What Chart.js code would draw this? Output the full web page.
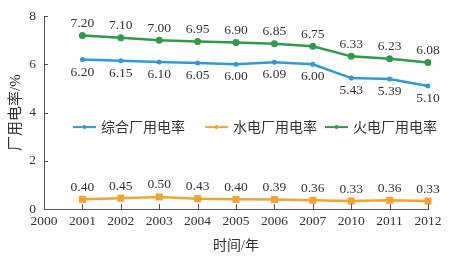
<!DOCTYPE html>
<html><head><meta charset="utf-8">
<script src="https://cdn.jsdelivr.net/npm/chart.js@4/dist/chart.umd.min.js"></script>
<style>html,body{margin:0;padding:0;background:#fff}#wrap{width:453px;height:261px;position:relative}</style>
</head><body><div id="wrap"><canvas id="c"></canvas></div>
<script>
// ---- data ----
const years = ['2000','2001','2002','2003','2004','2005','2006','2007','2010','2011','2012'];
const seriesNames = ['综合厂用电率','水电厂用电率','火电厂用电率'];
const overallRate = [6.20, 6.15, 6.10, 6.05, 6.00, 6.09, 6.00, 5.43, 5.39, 5.10];
const hydroRate   = [0.40, 0.45, 0.50, 0.43, 0.40, 0.39, 0.36, 0.33, 0.36, 0.33];
const thermalRate = [7.20, 7.10, 7.00, 6.95, 6.90, 6.85, 6.75, 6.33, 6.23, 6.08];
const yTicks = [0, 2, 4, 6, 8];

const FONT = '"Liberation Serif", "Noto Sans CJK SC", serif';
const TXT = '#333333';
const AXIS = '#555555';

const blue = '#2E9BDA', orange = '#F2A431', green = '#2F9A48';

function mk(name, vals, color, style, radius, off) {
  return {
    label: name, data: [null].concat(vals), borderColor: color, backgroundColor: color,
    borderWidth: 2.5, pointStyle: style, pointRadius: radius, pointHoverRadius: radius,
    pointBorderWidth: 0, tension: 0, spanGaps: false, labelOffset: off
  };
}

const labelPlugin = {
  id: 'vlabels',
  afterDatasetsDraw(chart) {
    const ctx = chart.ctx;
    ctx.save();
    ctx.font = '13.5px ' + FONT;
    ctx.fillStyle = TXT; ctx.textAlign = 'center'; ctx.textBaseline = 'middle';
    chart.data.datasets.forEach((ds, i) => {
      chart.getDatasetMeta(i).data.forEach((pt, j) => {
        const v = ds.data[j]; if (v == null) return;
        ctx.fillText(v.toFixed(2), pt.x, pt.y + ds.labelOffset);
      });
    });
    ctx.restore();
  }
};

const tickPlugin = {
  id: 'innerTicks',
  afterDraw(chart) {
    const ctx = chart.ctx, a = chart.chartArea;
    const xs = chart.scales.x, ys = chart.scales.y;
    ctx.save();
    ctx.strokeStyle = AXIS; ctx.lineWidth = 1;
    ctx.beginPath();
    ys.ticks.forEach((t, i) => {
      const y = Math.round(ys.getPixelForTick(i)) + 0.5;
      ctx.moveTo(a.left, y); ctx.lineTo(a.left + 4, y);
    });
    xs.ticks.forEach((t, i) => {
      const x = Math.round(xs.getPixelForTick(i)) + 0.5;
      ctx.moveTo(x, a.bottom); ctx.lineTo(x, a.bottom - 5);
    });
    ctx.stroke();
    ctx.restore();
  }
};

const legendPlugin = {
  id: 'innerLegend',
  afterDraw(chart) {
    const ctx = chart.ctx, a = chart.chartArea;
    const y = a.top + 111;
    const starts = [29, 161, 281];
    ctx.save();
    ctx.font = '14px ' + FONT;
    ctx.textBaseline = 'middle'; ctx.textAlign = 'left';
    chart.data.datasets.forEach((ds, i) => {
      const x0 = a.left + starts[i];
      ctx.strokeStyle = ds.borderColor; ctx.lineWidth = 2;
      ctx.beginPath(); ctx.moveTo(x0, y); ctx.lineTo(x0 + 23, y); ctx.stroke();
      ctx.fillStyle = ds.borderColor;
      ctx.beginPath(); ctx.arc(x0 + 11.5, y, 2, 0, Math.PI * 2); ctx.fill();
      ctx.fillStyle = TXT;
      ctx.fillText(ds.label, x0 + 28, y + 1);
    });
    ctx.restore();
  }
};

new Chart(document.getElementById('c'), {
  type: 'line',
  data: {
    labels: years,
    datasets: [
      mk(seriesNames[0], overallRate, blue, 'circle', 2.5, 12.5),
      mk(seriesNames[1], hydroRate, orange, 'rect', 5, -12),
      mk(seriesNames[2], thermalRate, green, 'circle', 3.5, -12)
    ]
  },
  options: {
    responsive: true, maintainAspectRatio: false, animation: false,
    layout: { padding: { top: 16, right: 25, left: 0, bottom: 0 } },
    plugins: { legend: { display: false }, tooltip: { enabled: false } },
    scales: {
      x: {
        offset: false,
        grid: { display: false, drawTicks: false },
        border: { display: true, color: AXIS, width: 1 },
        ticks: { color: TXT, font: { family: FONT, size: 13.5 }, padding: 4, maxRotation: 0, autoSkip: false },
        title: { display: true, text: '时间/年', color: TXT, font: { family: FONT, size: 14 }, padding: { top: 4, bottom: 6 } },
        afterFit(s) { s.height = 52; }
      },
      y: {
        min: 0, max: 8,
        afterBuildTicks(s) { s.ticks = yTicks.map(v => ({ value: v })); },
        grid: { display: false, drawTicks: false },
        border: { display: true, color: AXIS, width: 1 },
        ticks: { color: TXT, font: { family: FONT, size: 13.5 }, padding: 8 },
        title: { display: true, text: '厂用电率/%', color: TXT, font: { family: FONT, size: 15 }, padding: { top: 7, bottom: 0 } },
        afterFit(s) { s.width = 44; }
      }
    }
  },
  plugins: [labelPlugin, tickPlugin, legendPlugin]
});
</script></body></html>
